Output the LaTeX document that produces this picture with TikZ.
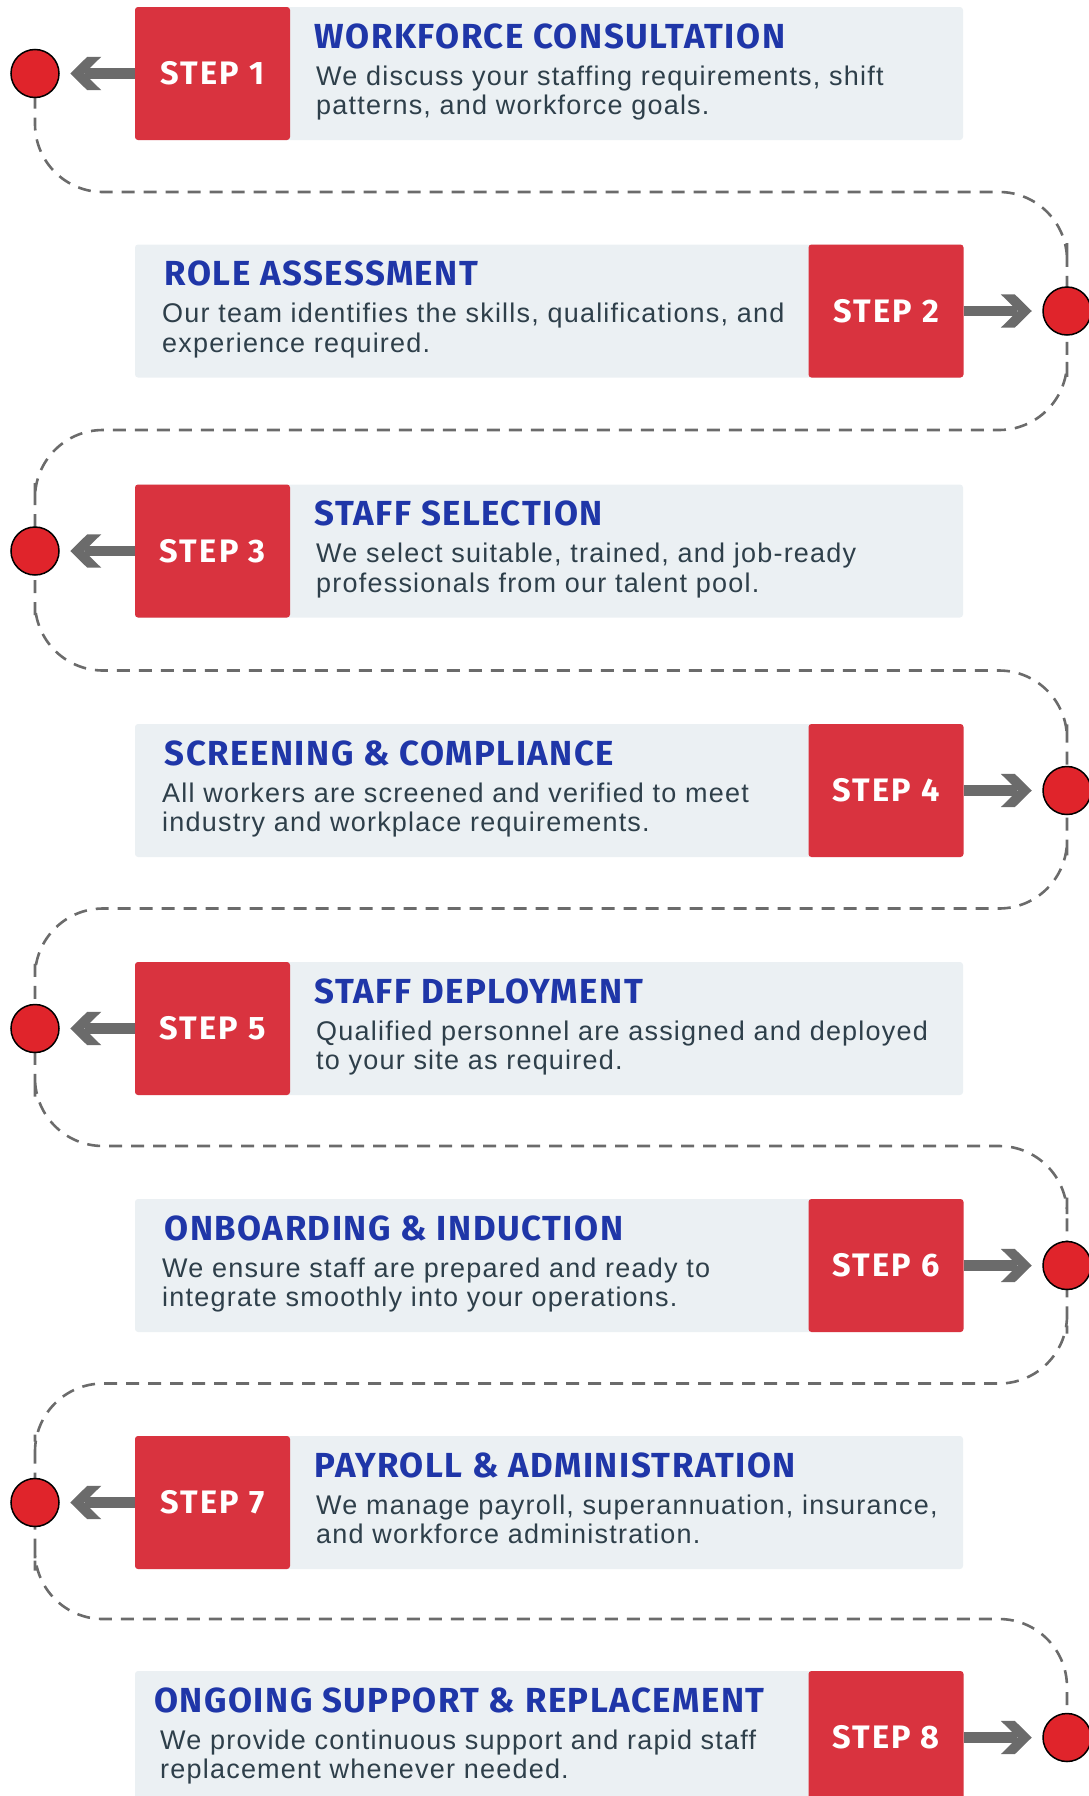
\documentclass[tikz,border=0pt]{standalone}
\usepackage{fontspec}
\setmainfont{Liberation Sans}
\newfontfamily\headfont[LetterSpace=4.3]{Fira Sans}
\newfontfamily\stepfont[LetterSpace=7]{Fira Sans}
\newfontfamily\bodyfont[LetterSpace=4.5]{Liberation Sans}
\usetikzlibrary{arrows.meta}

\definecolor{stepred}{HTML}{D9333F}
\definecolor{dotred}{HTML}{E0242B}
\definecolor{panelgray}{HTML}{EBF0F3}
\definecolor{titleblue}{HTML}{1F36A8}
\definecolor{textslate}{HTML}{2E3F4A}
\definecolor{arrowgray}{HTML}{6B6B6B}

% 粗箭头（切平的尖角）
\pgfdeclarearrow{
  name = Chevron,
  setup code = {
    \pgfarrowssettipend{0pt}
    \pgfarrowssetlineend{-15pt}
    \pgfarrowssetbackend{-31pt}
    \pgfarrowshullpoint{0pt}{0pt}
    \pgfarrowshullpoint{-31pt}{16.7pt}
    \pgfarrowshullpoint{-31pt}{-16.7pt}
  },
  drawing code = {
    \pgfpathmoveto{\pgfqpoint{0pt}{0pt}}
    \pgfpathlineto{\pgfqpoint{-17pt}{16.7pt}}
    \pgfpathlineto{\pgfqpoint{-31pt}{16.7pt}}
    \pgfpathlineto{\pgfqpoint{-14pt}{0pt}}
    \pgfpathlineto{\pgfqpoint{-31pt}{-16.7pt}}
    \pgfpathlineto{\pgfqpoint{-17pt}{-16.7pt}}
    \pgfpathclose
    \pgfusepathqfill
  }
}

\begin{document}
\begin{tikzpicture}[x=1pt, y=-1pt,
  panel/.style={fill=panelgray, rounded corners=3pt, minimum width=828pt, minimum height=133pt, inner sep=0pt},
  stepbox/.style={fill=stepred, rounded corners=3pt, minimum width=155pt, minimum height=133pt, inner sep=0pt,
    text=white, font=\stepfont\bfseries\fontsize{32.5}{34}\selectfont},
  dot/.style={circle, fill=dotred, draw=black, line width=1.5pt, minimum size=48pt, inner sep=0pt},
  ttl/.style={anchor=base west, inner sep=0pt, text=titleblue, font=\headfont\bfseries\fontsize{34.8}{38}\selectfont},
  txt/.style={anchor=base west, inner sep=0pt, align=left, text=textslate, font=\bodyfont\fontsize{27}{29.6}\selectfont},
  arrowline/.style={draw=arrowgray, line width=10.5pt, shorten >=10.5pt, -Chevron},
  trail/.style={draw=arrowgray, line width=2.6pt, dash pattern=on 13pt off 9pt, rounded corners=68pt}]
\useasboundingbox (0,0) rectangle (1088,1796);

% 底板
\node[panel] (g1) at (549,73.5) {};
\node[panel] (g2) at (549,311) {};
\node[panel] (g3) at (549,551) {};
\node[panel] (g4) at (549,790.5) {};
\node[panel] (g5) at (549,1028.5) {};
\node[panel] (g6) at (549,1265.5) {};
\node[panel] (g7) at (549,1502.5) {};
\node[panel] (g8) at (549,1737.5) {};

% 红色步骤块
\node[stepbox] (s1) at (212.5,73.5) {STEP 1};
\node[stepbox] (s2) at (886,311) {STEP 2};
\node[stepbox] (s3) at (212.5,551) {STEP 3};
\node[stepbox] (s4) at (886,790.5) {STEP 4};
\node[stepbox] (s5) at (212.5,1028.5) {STEP 5};
\node[stepbox] (s6) at (886,1265.5) {STEP 6};
\node[stepbox] (s7) at (212.5,1502.5) {STEP 7};
\node[stepbox] (s8) at (886,1737.5) {STEP 8};

% 标题与说明（说明的基线取第二行）
\node[ttl] (t1) at (314.5,48.4) {WORKFORCE CONSULTATION};
\node[txt] (d1) at (316,114.8) {We discuss your staffing requirements, shift\\patterns, and workforce goals.};
\node[ttl] (t2) at (164.5,285.9) {ROLE ASSESSMENT};
\node[txt] (d2) at (162,352.3) {Our team identifies the skills, qualifications, and\\experience required.};
\node[ttl] (t3) at (314.5,525.9) {STAFF SELECTION};
\node[txt] (d3) at (316,592.3) {We select suitable, trained, and job-ready\\professionals from our talent pool.};
\node[ttl] (t4) at (164.5,765.4) {SCREENING \& COMPLIANCE};
\node[txt] (d4) at (162,831.8) {All workers are screened and verified to meet\\industry and workplace requirements.};
\node[ttl] (t5) at (314.5,1003.4) {STAFF DEPLOYMENT};
\node[txt] (d5) at (316,1069.8) {Qualified personnel are assigned and deployed\\to your site as required.};
\node[ttl] (t6) at (164.5,1240.4) {ONBOARDING \& INDUCTION};
\node[txt] (d6) at (162,1306.8) {We ensure staff are prepared and ready to\\integrate smoothly into your operations.};
\node[ttl] (t7) at (314.5,1477.4) {PAYROLL \& ADMINISTRATION};
\node[txt] (d7) at (316,1543.8) {We manage payroll, superannuation, insurance,\\and workforce administration.};
\node[ttl] (t8) at (154,1712.4) {ONGOING SUPPORT \& REPLACEMENT};
\node[txt] (d8) at (160,1778.8) {We provide continuous support and rapid staff\\replacement whenever needed.};

% 虚线路径的拐点
\coordinate (m1) at (549,192);
\coordinate (m2) at (549,430);
\coordinate (m3) at (549,670.5);
\coordinate (m4) at (549,908.5);
\coordinate (m5) at (549,1146);
\coordinate (m6) at (549,1383.5);
\coordinate (m7) at (549,1619);
\coordinate (l1) at (35,73.5);
\coordinate (r2) at (1067,311);
\coordinate (l3) at (35,551);
\coordinate (r4) at (1067,790.5);
\coordinate (l5) at (35,1028.5);
\coordinate (r6) at (1067,1265.5);
\coordinate (l7) at (35,1502.5);
\coordinate (r8) at (1067,1737.5);

% 虚线
\draw[trail] (l1) -- (l1 |- m1) -- (r2 |- m1) -- (r2) -- (r2 |- m2) -- (l3 |- m2) -- (l3)
  -- (l3 |- m3) -- (r4 |- m3) -- (r4) -- (r4 |- m4) -- (l5 |- m4) -- (l5)
  -- (l5 |- m5) -- (r6 |- m5) -- (r6) -- (r6 |- m6) -- (l7 |- m6) -- (l7)
  -- (l7 |- m7) -- (r8 |- m7) -- (r8);

% 圆点
\node[dot] (c1) at (l1) {};
\node[dot] (c2) at (r2) {};
\node[dot] (c3) at (l3) {};
\node[dot] (c4) at (r4) {};
\node[dot] (c5) at (l5) {};
\node[dot] (c6) at (r6) {};
\node[dot] (c7) at (l7) {};
\node[dot] (c8) at (r8) {};

% 箭头
\draw[arrowline] (s1.west) -- (c1.east);
\draw[arrowline] (s2.east) -- (c2.west);
\draw[arrowline] (s3.west) -- (c3.east);
\draw[arrowline] (s4.east) -- (c4.west);
\draw[arrowline] (s5.west) -- (c5.east);
\draw[arrowline] (s6.east) -- (c6.west);
\draw[arrowline] (s7.west) -- (c7.east);
\draw[arrowline] (s8.east) -- (c8.west);
\end{tikzpicture}
\end{document}
